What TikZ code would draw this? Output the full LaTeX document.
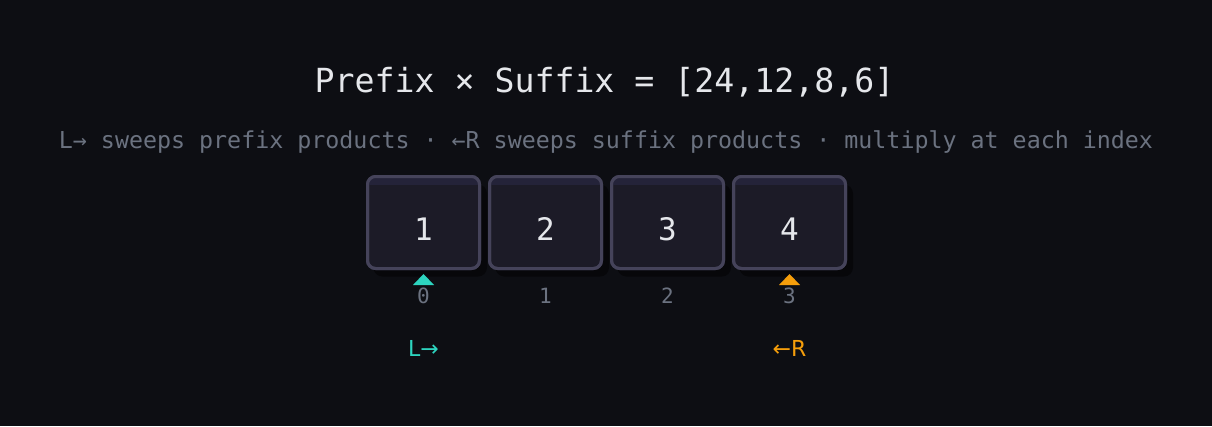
\documentclass[tikz,border=0pt]{standalone}
\usepackage{fontspec}
\setmainfont{DejaVu Sans Mono}
\newfontfamily\sansf{DejaVu Sans}
\definecolor{bg}{HTML}{0D0E13}
\definecolor{boxfill}{HTML}{1C1B27}
\definecolor{boxtop}{HTML}{242339}
\definecolor{boxborder}{HTML}{45435A}
\definecolor{shadow}{HTML}{07070A}
\definecolor{titlec}{HTML}{E5E7EB}
\definecolor{subc}{HTML}{6B7280}
\definecolor{teal}{HTML}{2DD4BF}
\definecolor{orange}{HTML}{F59E0B}
\begin{document}
\begin{tikzpicture}[x=1pt,y=-1pt,
  cellbox/.style={minimum width=112pt,minimum height=92pt,inner sep=0pt,rounded corners=8pt,line width=3pt,draw=boxborder,fill=boxfill},
  cellnum/.style={font=\fontsize{31}{31}\selectfont,text=titlec,anchor=base,inner sep=0pt},
  idxlab/.style={font=\fontsize{21}{21}\selectfont,text=subc,anchor=base,inner sep=0pt},
  ptrlab/.style={font=\sansf\fontsize{22}{22}\selectfont,anchor=base,inner sep=0pt}]
\fill[bg] (0,0) rectangle (1212,426);
\useasboundingbox (0,0) rectangle (1212,426);
\node[font=\fontsize{33.2}{33.2}\selectfont,text=titlec,anchor=base,inner sep=0pt] (title) at (604.5,92) {Prefix × Suffix = [24,12,8,6]};
\node[font=\fontsize{23.3}{23.3}\selectfont,text=subc,anchor=base,inner sep=0pt] (sub) at (606,148) {L→ sweeps prefix products · ←R sweeps suffix products · multiply at each index};
\foreach \i/\v in {0/1,1/2,2/3,3/4}{
  \pgfmathsetmacro{\cx}{423.5+122*\i}
  \fill[shadow,rounded corners=9pt] (\cx-56+6,176.5+8) rectangle (\cx+57.5+6,268.5+8);
  \node[cellbox] (b\i) at (\cx,222.5) {};
  \begin{scope}
    \clip[rounded corners=6.5pt] (\cx-54.5,178) rectangle (\cx+54.5,267);
    \fill[boxtop] (\cx-54.5,178) rectangle (\cx+54.5,185);
  \end{scope}
  \draw[boxborder,line width=3pt,rounded corners=8pt] (\cx-56,176.5) rectangle (\cx+56,268.5);
  \node[cellnum] (n\i) at (\cx,240) {\v};
  \node[idxlab] (i\i) at (\cx,303) {\i};
}
\coordinate (tL) at (423.5,274);
\coordinate (tR) at (789.5,274);
\fill[teal] (tL) -- ++(-10.5,11) -- ++(21,0) -- cycle;
\fill[orange] (tR) -- ++(-10.5,11) -- ++(21,0) -- cycle;
\node[ptrlab,text=teal] (L) at (423.5,356) {L→};
\node[ptrlab,text=orange] (R) at (789.5,356) {←R};
\end{tikzpicture}
\end{document}
